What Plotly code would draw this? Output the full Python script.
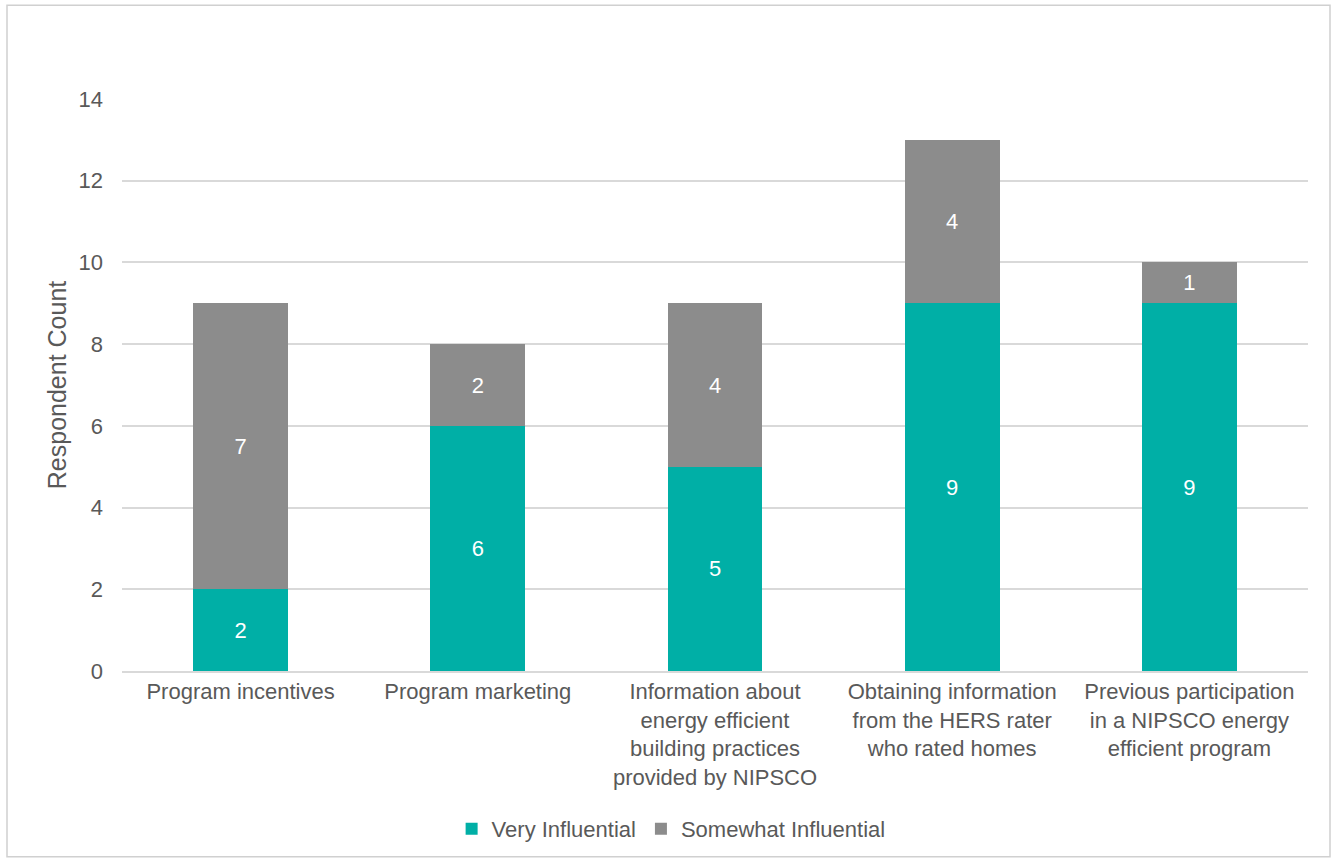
import plotly.graph_objects as go

categories = [
    "Program incentives",
    "Program marketing",
    "Information about<br>energy efficient<br>building practices<br>provided by NIPSCO",
    "Obtaining information<br>from the HERS rater<br>who rated homes",
    "Previous participation<br>in a NIPSCO energy<br>efficient program",
]
very_influential = [2, 6, 5, 9, 9]
somewhat_influential = [7, 2, 4, 4, 1]
y_ticks = [0, 2, 4, 6, 8, 10, 12, 14]

TEAL = "#00AFA6"
GREY = "#8C8C8C"
TEXT = "#595959"
FONT = "Liberation Sans, Arial, sans-serif"
FS = 22

fig = go.Figure()
fig.add_trace(go.Bar(
    name="Very Influential", x=categories, y=very_influential,
    marker=dict(color=TEAL, line=dict(width=0)),
    text=very_influential, textposition="inside", insidetextanchor="middle",
    textfont=dict(color="white", size=FS, family=FONT), textangle=0,
))
fig.add_trace(go.Bar(
    name="Somewhat Influential", x=categories, y=somewhat_influential,
    marker=dict(color=GREY, line=dict(width=0)),
    text=somewhat_influential, textposition="inside", insidetextanchor="middle",
    textfont=dict(color="white", size=FS, family=FONT), textangle=0,
))

# outer frame around the whole chart
L, R, T, B = 122, 28, 99, 189
pw, ph = 1336 - L - R, 861 - T - B
fx0, fx1 = (7 - L) / pw, (1330 - L) / pw
fy1, fy0 = (861 - B - 5) / ph, (861 - B - 858) / ph

fig.update_layout(
    barmode="stack",
    bargap=0.6,
    width=1336, height=861,
    margin=dict(l=L, r=R, t=T, b=B),
    paper_bgcolor="white", plot_bgcolor="white",
    font=dict(family=FONT, size=FS, color=TEXT),
    uniformtext=dict(minsize=FS, mode="show"),
    legend=dict(orientation="h", x=0.463, xanchor="center", y=-0.274, yanchor="middle",
                font=dict(size=FS, color=TEXT), traceorder="normal"),
    xaxis=dict(showgrid=False, showline=True, linecolor="#D9D9D9", linewidth=1.5,
               ticks="", tickfont=dict(size=FS, color=TEXT)),
    yaxis=dict(range=[0, 14], tickvals=y_ticks, showgrid=True, gridcolor="#D9D9D9",
               gridwidth=1.5, zeroline=False, showline=False, ticks="",
               ticklabelstandoff=18,
               tickfont=dict(size=FS, color=TEXT),
               title=dict(text="Respondent Count", font=dict(size=25, color=TEXT), standoff=4)),
    shapes=[dict(type="rect", xref="paper", yref="paper", x0=fx0, x1=fx1, y0=fy0, y1=fy1,
                 line=dict(color="#D0D0D0", width=1.5), fillcolor="rgba(0,0,0,0)", layer="below")],
)

fig.write_html("out.html")
